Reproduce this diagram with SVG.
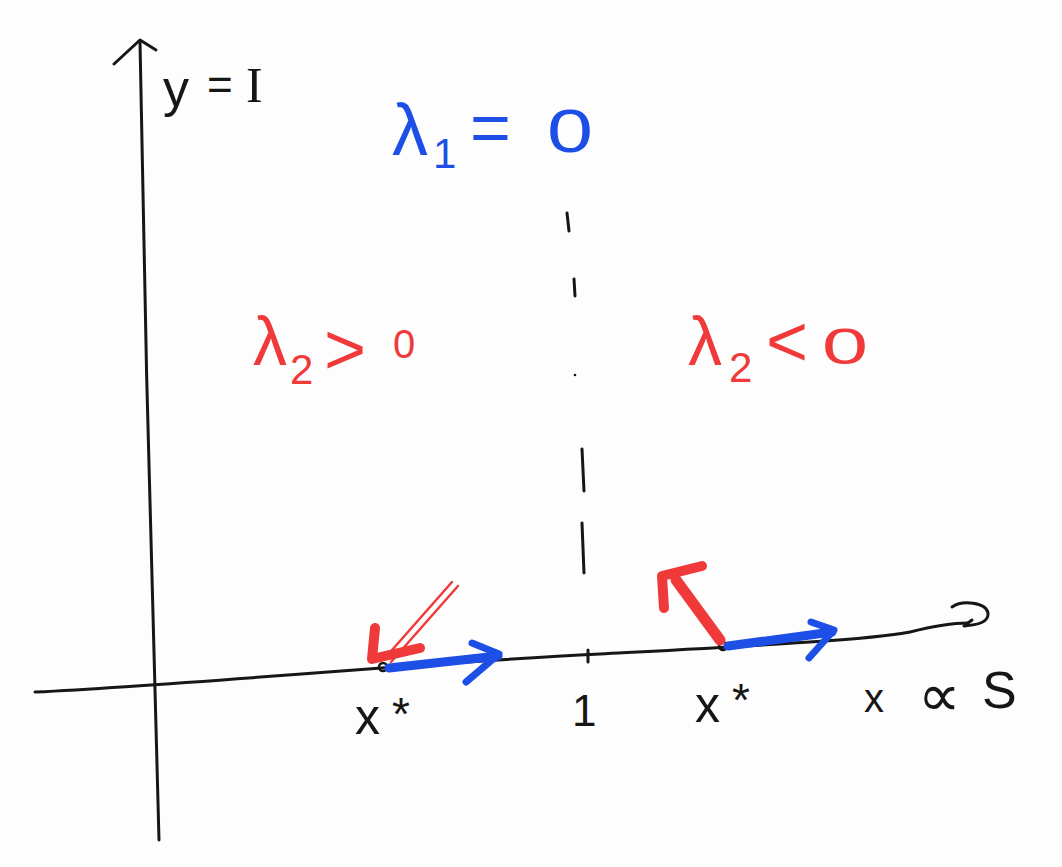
<svg xmlns="http://www.w3.org/2000/svg" width="1062" height="867" viewBox="0 0 1062 867">
<style>
.ink{fill:none;stroke:#161616;stroke-width:3;stroke-linecap:round;stroke-linejoin:round}
.blue{fill:none;stroke:#1d4fe6;stroke-linecap:round;stroke-linejoin:round}
.red{fill:none;stroke:#f03a3a;stroke-linecap:round;stroke-linejoin:round}
text{font-family:"Liberation Sans","DejaVu Sans",sans-serif}
text.serif{font-family:"Liberation Serif","DejaVu Serif",serif}
.tk{fill:#161616}
.tb{fill:#1d4fe6}
.tr{fill:#f03a3a}
</style>
<rect width="1062" height="867" fill="#fdfdfd"/>
<g id="connectors">
  <!-- y axis -->
  <path class="ink" d="M159,840 C152,600 144,300 140,42"/>
  <path class="ink" d="M114,64 L140,40 L156,50"/>
  <!-- x axis -->
  <path class="ink" d="M35,692 C200,684 400,664 600,654 C750,646 870,640 910,632 C930,627 950,623 968,623"/>
  <path class="ink" d="M952,607 C962,600 986,602 988,613 C989,622 978,625 964,626 L972,620"/>
  <!-- dashed line x=1 -->
  <path class="ink" d="M567,213 L569,231 M574,279 L575,296 M582,449 L584,491 M582,523 L584,573 M588,650 L588,662"/>
  <circle cx="575" cy="375" r="1.3" fill="#161616"/>
  <!-- points -->
  <circle cx="383" cy="667" r="4" fill="none" stroke="#161616" stroke-width="2.5"/>
  <circle cx="723" cy="646" r="4" fill="none" stroke="#161616" stroke-width="2.5"/>
  <!-- blue arrows -->
  <path class="blue" stroke-width="9" d="M389,668 L498,656"/>
  <path class="blue" stroke-width="7" d="M472,643 L499,654 L466,682"/>
  <path class="blue" stroke-width="9" d="M728,646 L832,632"/>
  <path class="blue" stroke-width="7" d="M811,622 L834,630 L809,658"/>
  <!-- red arrows -->
  <path class="red" stroke-width="2.5" d="M452,582 L385,658 M458,586 L391,662"/>
  <path class="red" stroke-width="10" d="M375,628 L372,659 L420,648"/>
  <path class="red" stroke-width="11" d="M720,640 L676,580"/>
  <path class="red" stroke-width="10" d="M664,608 L662,576 L702,566"/>
</g>
<g id="label-y">
  <text class="tk" x="163" y="106" font-size="52">y</text>
  <text class="tk" x="207" y="100" font-size="44">=</text>
  <text class="tk serif" x="246" y="102" font-size="50">I</text>
</g>
<g id="label-lambda1">
  <text class="tb" x="392" y="155" font-size="72">λ</text>
  <text class="tb" x="433" y="168" font-size="42">1</text>
  <text class="tb" x="470" y="152" font-size="70">=</text>
  <text class="tb" x="547" y="152" font-size="62" textLength="46" lengthAdjust="spacingAndGlyphs">0</text>
</g>
<g id="label-left">
  <text class="tr" x="253" y="365" font-size="68">λ</text>
  <text class="tr" x="290" y="384" font-size="42">2</text>
  <text class="tr" x="324" y="374" font-size="72">&gt;</text>
  <text class="tr" x="393" y="358" font-size="40">0</text>
</g>
<g id="label-right">
  <text class="tr" x="688" y="365" font-size="68">λ</text>
  <text class="tr" x="729" y="382" font-size="42">2</text>
  <text class="tr" x="766" y="366" font-size="72">&lt;</text>
  <text class="tr" x="822" y="364" font-size="50" textLength="46" lengthAdjust="spacingAndGlyphs">0</text>
</g>
<g id="label-xstar-left">
  <text class="tk" x="355" y="734" font-size="50">x</text>
  <text class="tk" x="392" y="730" font-size="46">*</text>
</g>
<g id="label-one"><text class="tk" x="572" y="726" font-size="44">1</text></g>
<g id="label-xstar-right">
  <text class="tk" x="695" y="722" font-size="50">x</text>
  <text class="tk" x="732" y="716" font-size="46">*</text>
</g>
<g id="label-xS">
  <text class="tk" x="864" y="712" font-size="40">x</text>
  <text class="tk" x="918" y="716" font-size="60">∝</text>
  <text class="tk" x="982" y="708" font-size="52">S</text>
</g>
</svg>
